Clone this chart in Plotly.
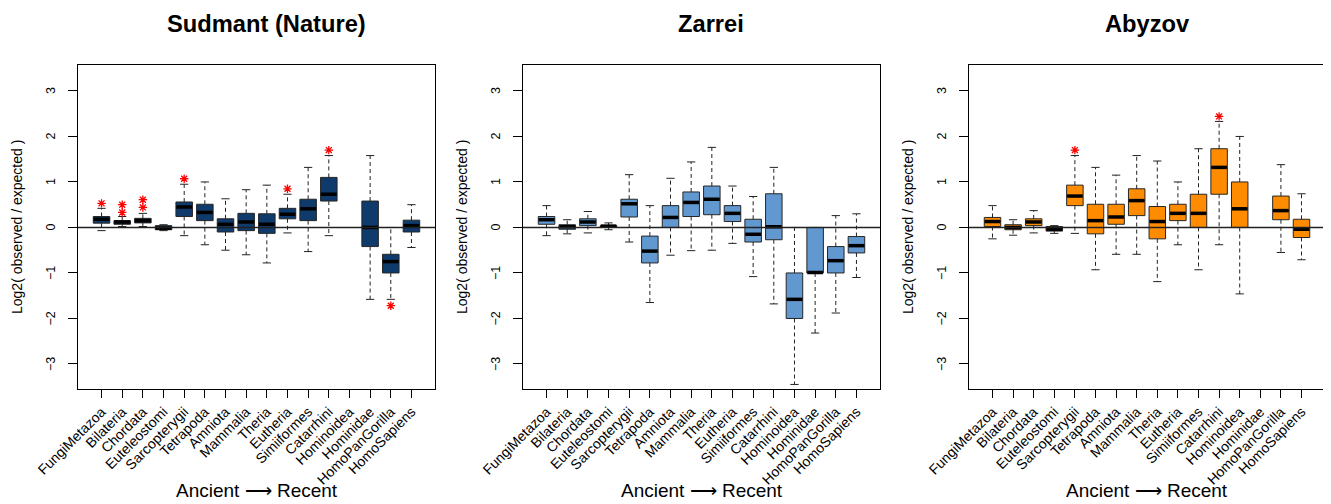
import plotly.graph_objects as go

categories = ["FungiMetazoa", "Bilateria", "Chordata", "Euteleostomi", "Sarcopterygii",
              "Tetrapoda", "Amniota", "Mammalia", "Theria", "Eutheria", "Simiiformes",
              "Catarrhini", "Hominoidea", "Hominidae", "HomoPanGorilla", "HomoSapiens"]

panel_titles = ["Sudmant (Nature)", "Zarrei", "Abyzov"]
panel_colors = ["#0E3A6C", "#6198D0", "#FF8C00"]

# ---- Sudmant (Nature) ----
sud_lower = [-0.07, 0.02, 0.02, -0.07, -0.18, -0.38, -0.50, -0.60, -0.78, -0.12, -0.53, -0.18, None, -1.58, -1.58, -0.44]
sud_q1 = [0.095, 0.07, 0.10, -0.05, 0.24, 0.15, -0.10, -0.07, -0.13, 0.19, 0.15, 0.58, None, -0.42, -1.00, -0.10]
sud_med = [0.18, 0.12, 0.15, -0.015, 0.45, 0.33, 0.07, 0.12, 0.07, 0.29, 0.41, 0.73, None, 0.00, -0.75, 0.04]
sud_q3 = [0.24, 0.15, 0.20, 0.04, 0.56, 0.51, 0.19, 0.31, 0.30, 0.42, 0.62, 1.10, None, 0.58, -0.59, 0.16]
sud_upper = [0.42, 0.24, 0.31, 0.06, 0.95, 1.00, 0.63, 0.83, 0.93, 0.73, 1.32, 1.58, None, 1.58, 0.00, 0.50]
sud_star_idx = [0, 1, 1, 2, 2, 4, 9, 11, 14]
sud_star_val = [0.53, 0.50, 0.33, 0.61, 0.44, 1.07, 0.85, 1.70, -1.72]

# ---- Zarrei ----
zar_lower = [-0.18, -0.14, -0.12, -0.05, -0.32, -1.65, -0.61, -0.51, -0.50, -0.35, -1.08, -1.68, -3.45, -2.32, -1.88, -1.10]
zar_q1 = [0.07, -0.04, 0.04, 0.00, 0.23, -0.78, 0.00, 0.24, 0.28, 0.13, -0.32, -0.27, -2.00, -1.00, -1.00, -0.56]
zar_med = [0.17, 0.015, 0.12, 0.03, 0.52, -0.52, 0.22, 0.55, 0.62, 0.31, -0.15, 0.015, -1.58, -0.99, -0.73, -0.40]
zar_q3 = [0.24, 0.06, 0.19, 0.04, 0.62, -0.19, 0.48, 0.78, 0.91, 0.48, 0.18, 0.74, -1.00, 0.00, -0.42, -0.20]
zar_upper = [0.48, 0.17, 0.35, 0.10, 1.16, 0.48, 1.08, 1.44, 1.76, 0.91, 0.68, 1.32, 0.00, 0.00, 0.26, 0.30]
zar_star_idx = []
zar_star_val = []

# ---- Abyzov ----
aby_lower = [-0.25, -0.17, -0.12, -0.13, -0.13, -0.93, -0.59, -0.59, -1.19, -0.38, -0.93, -0.38, -1.46, None, -0.55, -0.71]
aby_q1 = [0.02, -0.05, 0.04, -0.08, 0.48, -0.14, 0.07, 0.26, -0.25, 0.15, 0.00, 0.73, 0.00, None, 0.17, -0.22]
aby_med = [0.13, 0.00, 0.12, -0.04, 0.69, 0.15, 0.23, 0.59, 0.13, 0.31, 0.31, 1.32, 0.41, None, 0.37, -0.04]
aby_q3 = [0.22, 0.06, 0.19, 0.02, 0.93, 0.51, 0.51, 0.85, 0.46, 0.51, 0.73, 1.73, 1.00, None, 0.69, 0.18]
aby_upper = [0.48, 0.17, 0.37, 0.04, 1.58, 1.32, 1.15, 1.58, 1.46, 1.00, 1.73, 2.33, 2.00, None, 1.38, 0.74]
aby_star_idx = [4, 11]
aby_star_val = [1.70, 2.44]

y_ticks = [-3, -2, -1, 0, 1, 2, 3]
y_ticktext = ["\u22123", "\u22122", "\u22121", "0", "1", "2", "3"]
y_title = "Log2( observed / expected )"
x_title = "Ancient \u27f6 Recent"

panels = [
    (sud_lower, sud_q1, sud_med, sud_q3, sud_upper, sud_star_idx, sud_star_val),
    (zar_lower, zar_q1, zar_med, zar_q3, zar_upper, zar_star_idx, zar_star_val),
    (aby_lower, aby_q1, aby_med, aby_q3, aby_upper, aby_star_idx, aby_star_val),
]

# page body has an 8px margin, so the figure is offset by 8px
OFF = 8
W, H = 1331 - OFF, 504 - OFF
x_px = [(78 - OFF, 435 - OFF), (523 - OFF, 880 - OFF), (969 - OFF, 1325 - OFF)]
title_cx = [266 - OFF, 711 - OFF, 1147 - OFF]
y_top, y_bot = 65 - OFF, 389 - OFF
BOXW = 0.8
CAPW = 0.4
FONT = "Liberation Sans, Arial, sans-serif"

fig = go.Figure()
layout = dict(width=W, height=H, margin=dict(l=0, r=0, t=0, b=0, autoexpand=False),
              paper_bgcolor="white", plot_bgcolor="white", showlegend=False,
              font=dict(family=FONT, color="black"))
annotations = []
shapes = []

for p, (lo, q1, md, q3, up, sidx, sval) in enumerate(panels):
    ax = "" if p == 0 else str(p + 1)
    xref, yref = "x" + ax, "y" + ax
    idx = [i for i in range(len(categories)) if md[i] is not None]

    fig.add_trace(go.Box(
        x=idx, q1=[q1[i] for i in idx], median=[md[i] for i in idx], q3=[q3[i] for i in idx],
        lowerfence=[q1[i] for i in idx], upperfence=[q3[i] for i in idx],
        width=BOXW, whiskerwidth=0, fillcolor=panel_colors[p],
        line=dict(color="#262626", width=1), xaxis=xref, yaxis=yref, hoverinfo="skip"))

    # dashed whiskers
    wx, wy = [], []
    for i in idx:
        wx += [i, i, None, i, i, None]
        wy += [q3[i], up[i], None, q1[i], lo[i], None]
    fig.add_trace(go.Scatter(x=wx, y=wy, mode="lines",
                             line=dict(color="#222222", width=1, dash="4px,3px"),
                             xaxis=xref, yaxis=yref, hoverinfo="skip"))
    # staples
    cx, cy = [], []
    for i in idx:
        for v in (up[i], lo[i]):
            cx += [i - CAPW / 2, i + CAPW / 2, None]
            cy += [v, v, None]
    fig.add_trace(go.Scatter(x=cx, y=cy, mode="lines", line=dict(color="#222222", width=1),
                             xaxis=xref, yaxis=yref, hoverinfo="skip"))
    # medians
    mx, my = [], []
    for i in idx:
        mx += [i - BOXW / 2 + 0.02, i + BOXW / 2 - 0.02, None]
        my += [md[i], md[i], None]
    fig.add_trace(go.Scatter(x=mx, y=my, mode="lines", line=dict(color="black", width=3.5),
                             xaxis=xref, yaxis=yref, hoverinfo="skip"))
    # significance stars
    if sidx:
        fig.add_trace(go.Scatter(x=sidx, y=sval, mode="markers",
                                 marker=dict(symbol="asterisk-open", size=7, color="red",
                                             line=dict(color="red", width=1.3)),
                                 xaxis=xref, yaxis=yref, hoverinfo="skip"))

    d0, d1 = x_px[p][0] / W, x_px[p][1] / W
    layout["xaxis" + ax] = dict(
        domain=[d0, d1], range=[-1.14, 16.14], anchor=yref, automargin=False,
        tickmode="array", tickvals=list(range(len(categories))), ticktext=categories,
        tickangle=-45, ticks="outside", ticklen=8, tickwidth=1, tickcolor="black",
        tickfont=dict(size=14, family=FONT), showline=True, linecolor="black", linewidth=1.3,
        mirror=True, showgrid=False, zeroline=False, fixedrange=True)
    layout["yaxis" + ax] = dict(
        domain=[1 - y_bot / H, 1 - y_top / H], range=[-3.55, 3.57], anchor=xref, automargin=False,
        tickmode="array", tickvals=y_ticks, showticklabels=False,
        ticks="outside", ticklen=9, tickwidth=1, tickcolor="black",
        showline=True, linecolor="black", linewidth=1.3, mirror=True,
        showgrid=False, zeroline=False, fixedrange=True)

    # rotated y tick labels (R style, parallel to the axis)
    for v, t in zip(y_ticks, y_ticktext):
        annotations.append(dict(text=t, xref=xref + " domain", yref=yref, x=0, y=v,
                                xshift=-27, showarrow=False, textangle=-90,
                                font=dict(size=12.5, family=FONT),
                                xanchor="center", yanchor="middle"))

    shapes.append(dict(type="line", xref=xref + " domain", yref=yref, x0=0, x1=1, y0=0, y1=0,
                       line=dict(color="#222222", width=1.5), layer="above"))

    cxp = (x_px[p][0] + x_px[p][1]) / 2 / W
    annotations.append(dict(text="<b>%s</b>" % panel_titles[p], x=title_cx[p] / W,
                            y=1 - (24 - OFF) / H, xref="paper", yref="paper", showarrow=False,
                            font=dict(size=23.7, family=FONT), xanchor="center", yanchor="middle"))
    annotations.append(dict(text=x_title, x=cxp, y=1 - (490 - OFF) / H, xref="paper", yref="paper",
                            showarrow=False, font=dict(size=19, family=FONT),
                            xanchor="center", yanchor="middle"))
    annotations.append(dict(text=y_title, x=(x_px[p][0] - 61) / W, y=1 - (y_top + y_bot) / 2 / H,
                            xref="paper", yref="paper", showarrow=False, textangle=-90,
                            font=dict(size=14, family=FONT), xanchor="center", yanchor="middle"))

layout["annotations"] = annotations
layout["shapes"] = shapes
fig.update_layout(**layout)
fig.write_html("out.html")
